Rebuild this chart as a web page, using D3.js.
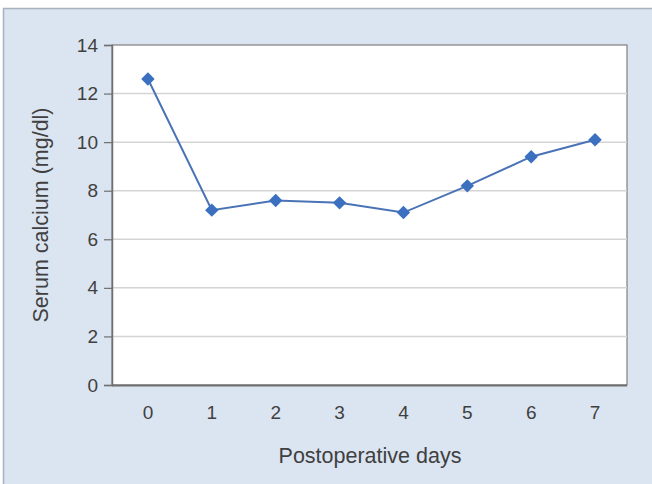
<!DOCTYPE html>
<html><head><meta charset="utf-8">
<script src="https://cdn.jsdelivr.net/npm/d3@7"></script>
<style>html,body{margin:0;padding:0;background:#fff;}svg{display:block;}</style>
</head><body>
<svg id="c" width="652" height="484"></svg>
<script>
const days = ["0","1","2","3","4","5","6","7"];
const calcium = [12.6, 7.2, 7.6, 7.5, 7.1, 8.2, 9.4, 10.1];
const yTicks = [0, 2, 4, 6, 8, 10, 12, 14];
const xTitle = "Postoperative days";
const yTitle = "Serum calcium (mg/dl)";

const svg = d3.select("#c");
const W = 652, H = 484;
const m = {l: 112, r: 25, t: 45, b: 99};
const pw = W - m.l - m.r, ph = H - m.t - m.b;
const FONT = "Liberation Sans, Arial, sans-serif";

// panel background
svg.append("rect").attr("x", 3.5).attr("y", 8.5).attr("width", W).attr("height", H)
  .attr("fill", "#dbe5f1").attr("stroke", "#a8b2bf").attr("stroke-width", 1.5);

const x = d3.scaleBand().domain(days).range([m.l + 4, m.l + pw]);
const y = d3.scaleLinear().domain([0, 14]).range([m.t + ph, m.t]);

const g = svg.append("g");
g.append("rect").attr("x", m.l).attr("y", m.t).attr("width", pw).attr("height", ph)
  .attr("fill", "#ffffff").attr("stroke", "#7f7f7f").attr("stroke-width", 1.2);

// gridlines
g.selectAll("line.grid").data(yTicks.filter(d => d > 0 && d < 14)).join("line")
  .attr("x1", m.l).attr("x2", m.l + pw)
  .attr("y1", d => y(d)).attr("y2", d => y(d))
  .attr("stroke", "#d4d4d4").attr("stroke-width", 1.5);

// y axis
const yAxis = d3.axisLeft(y).tickValues(yTicks).tickSize(8).tickPadding(6);
const ya = svg.append("g").attr("transform", `translate(${m.l},0)`).call(yAxis);
ya.attr("font-size", null).attr("font-family", null);
ya.select(".domain").attr("stroke", "#6f6f6f").attr("stroke-width", 1.5);
ya.selectAll(".tick line").attr("stroke", "#6f6f6f").attr("stroke-width", 1.2);
ya.selectAll("text").style("font-family", FONT).style("font-size", "19px").attr("fill", "#404040");

// x axis
const xAxis = d3.axisBottom(x).tickSize(0).tickPadding(21);
const xa = svg.append("g").attr("transform", `translate(0,${m.t + ph})`).call(xAxis);
xa.attr("font-size", null).attr("font-family", null);
xa.select(".domain").attr("stroke", "#6f6f6f").attr("stroke-width", 2).attr("d", `M${m.l},0.5H${m.l + pw}`);
xa.selectAll("text").style("font-family", FONT).style("font-size", "19px").attr("fill", "#404040");

// line
const cx = d => x(d) + x.bandwidth() / 2;
const line = d3.line().x((d, i) => cx(days[i])).y(d => y(d));
svg.append("path").datum(calcium).attr("d", line)
  .attr("fill", "none").attr("stroke", "#4a73b6").attr("stroke-width", 2);

svg.selectAll("path.pt").data(calcium).join("path")
  .attr("d", d3.symbol().type(d3.symbolDiamond2).size(115))
  .attr("transform", (d, i) => `translate(${cx(days[i])},${y(d)})`)
  .attr("fill", "#3b6fc0");

// titles
svg.append("text").attr("x", 370).attr("y", 463).attr("text-anchor", "middle")
  .style("font-family", FONT).style("font-size", "21.5px")
  .attr("fill", "#404040").text(xTitle);
svg.append("text").attr("transform", `translate(48,215) rotate(-90)`)
  .attr("text-anchor", "middle")
  .style("font-family", FONT).style("font-size", "21.5px")
  .attr("fill", "#404040").text(yTitle);
</script>
</body></html>
